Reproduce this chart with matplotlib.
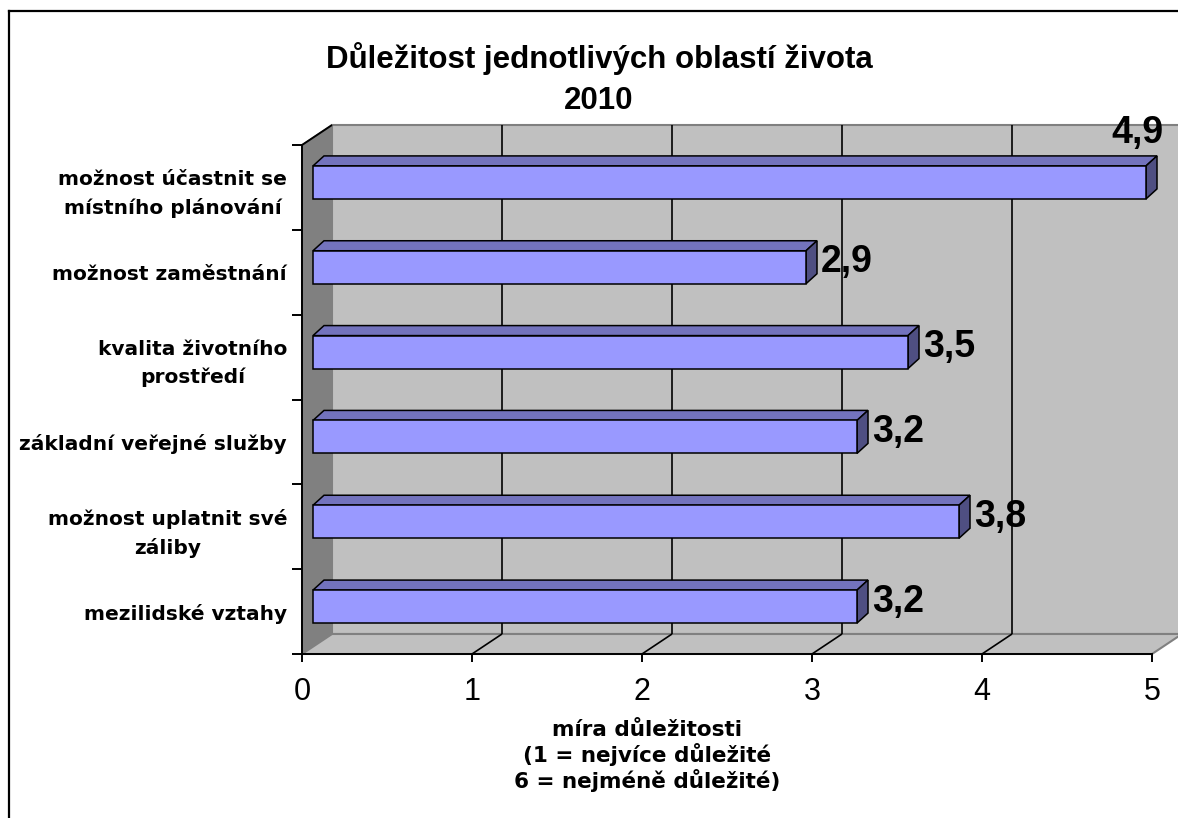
import matplotlib.pyplot as plt
from matplotlib.patches import Polygon
from matplotlib.lines import Line2D

# data
categories = [
    "možnost účastnit se\nmístního plánování",
    "možnost zaměstnání",
    "kvalita životního\nprostředí",
    "základní veřejné služby",
    "možnost uplatnit své\nzáliby",
    "mezilidské vztahy",
]
values = [4.9, 2.9, 3.5, 3.2, 3.8, 3.2]
x_ticks = [0, 1, 2, 3, 4, 5]

title = "Důležitost jednotlivých oblastí života\n2010"
x_label = "míra důležitosti\n(1 = nejvíce důležité\n6 = nejméně důležité)"

W, H = 1178, 818
fig = plt.figure(figsize=(W / 100, H / 100), dpi=100)
# front plane of the 3d plot
ax = fig.add_axes([302 / W, 1 - 654 / H, 850 / W, 509 / H])
n = len(categories)
xmax = x_ticks[-1]
ax.set_xlim(0, xmax)
ax.set_ylim(n, 0)
ax.patch.set_visible(False)

XPX = xmax / 850   # data units per pixel
YPX = n / 509


def off(x, y, dx, dy):
    # shift a data point by a pixel offset (dy positive = down)
    return (x + dx * XPX, y + dy * YPX)


def quad(pts, **kw):
    ax.add_patch(Polygon(pts, closed=True, clip_on=False, **kw))


def seg(p, q, **kw):
    ax.plot([p[0], q[0]], [p[1], q[1]], clip_on=False, solid_capstyle='butt', **kw)


DEPTH = (30, -20)

# walls and floor
quad([off(0, 0, *DEPTH), off(xmax, 0, *DEPTH), off(xmax, n, *DEPTH), off(0, n, *DEPTH)],
     facecolor='#C0C0C0', edgecolor='#808080', lw=1.5, zorder=0)
quad([(0, 0), off(0, 0, *DEPTH), off(0, n, *DEPTH), (0, n)],
     facecolor='#808080', edgecolor='#808080', lw=1, zorder=0.5)
quad([(0, n), (xmax, n), off(xmax, n, *DEPTH), off(0, n, *DEPTH)],
     facecolor='#C0C0C0', edgecolor='#808080', lw=1.5, zorder=0.5)
seg((0, 0), off(0, 0, *DEPTH), color='black', lw=1.4, zorder=1)

# gridlines on back wall + floor
for k in x_ticks[1:-1]:
    seg(off(k, 0, *DEPTH), off(k, n, *DEPTH), color='black', lw=1.2, zorder=1)
    seg((k, n), off(k, n, *DEPTH), color='black', lw=1.2, zorder=1)

# 3d bars
BAR_SHIFT = (11, -5)
BAR_H = 33 * YPX
BAR_D = (11, -10)
for i, v in enumerate(values):
    yc = i + 0.5
    x0, yt = off(0, yc - BAR_H / 2, *BAR_SHIFT)
    _, yb = off(0, yc + BAR_H / 2, *BAR_SHIFT)
    x1 = x0 + v
    ekw = dict(edgecolor='black', lw=1.1, zorder=3, joinstyle='miter')
    quad([(x0, yt), (x1, yt), off(x1, yt, *BAR_D), off(x0, yt, *BAR_D)],
         facecolor='#7373BD', **ekw)
    quad([(x1, yt), (x1, yb), off(x1, yb, *BAR_D), off(x1, yt, *BAR_D)],
         facecolor='#4F4F82', **ekw)
    quad([(x0, yt), (x1, yt), (x1, yb), (x0, yb)], facecolor='#9999FF', **ekw)

    lab = f"{v:.1f}".replace('.', ',')
    tkw = dict(fontsize=27, fontweight='bold', family='Liberation Sans',
               color='black', zorder=5, clip_on=False)
    if v > xmax - 0.5:
        # no room on the right, put it above the bar end
        lx, ly = off(x1, yt, -9, -23)
        ax.text(lx, ly, lab, ha='center', va='baseline', **tkw)
    else:
        lx, ly = off(x1, yc, BAR_D[0] + 4, -10)
        ax.text(lx, ly, lab, ha='left', va='center', **tkw)

# axes
for s in ['top', 'right']:
    ax.spines[s].set_visible(False)
for s in ['left', 'bottom']:
    ax.spines[s].set_linewidth(1.4)
    ax.spines[s].set_zorder(2)

ax.set_xticks(x_ticks)
ax.set_xticklabels([str(t) for t in x_ticks], fontsize=22, family='Liberation Sans')
ax.tick_params(axis='x', length=8 * 0.72, width=1.4, pad=11)

ax.set_yticks(range(n + 1))
ax.set_yticklabels([])
ax.tick_params(axis='y', which='major', length=10 * 0.72, width=1.4)
ax.set_yticks([i + 0.5 for i in range(n)], minor=True)
ax.set_yticklabels(categories, minor=True, fontsize=14.5, fontweight='bold',
                   family='DejaVu Sans')
ax.tick_params(axis='y', which='minor', length=0, pad=15 * 0.72)
for t in ax.get_yticklabels(minor=True):
    t.set_multialignment('center')
    t.set_linespacing(1.55)

fig.text(599 / W, 1 - 79 / H, title, ha='center', va='center', fontsize=22.5,
         fontweight='bold', family='Liberation Sans', linespacing=1.45)
fig.text(647 / W, 1 - 756 / H, x_label, ha='center', va='center', multialignment='center',
         fontsize=15.5, fontweight='bold', family='DejaVu Sans', linespacing=1.15)

# chart border
fig.add_artist(Line2D([9 / W, 9 / W], [0, 1 - 11 / H], color='black', lw=1.6))
fig.add_artist(Line2D([9 / W, 1], [1 - 11 / H, 1 - 11 / H], color='black', lw=1.6))

fig.savefig('out.png', dpi=100)
